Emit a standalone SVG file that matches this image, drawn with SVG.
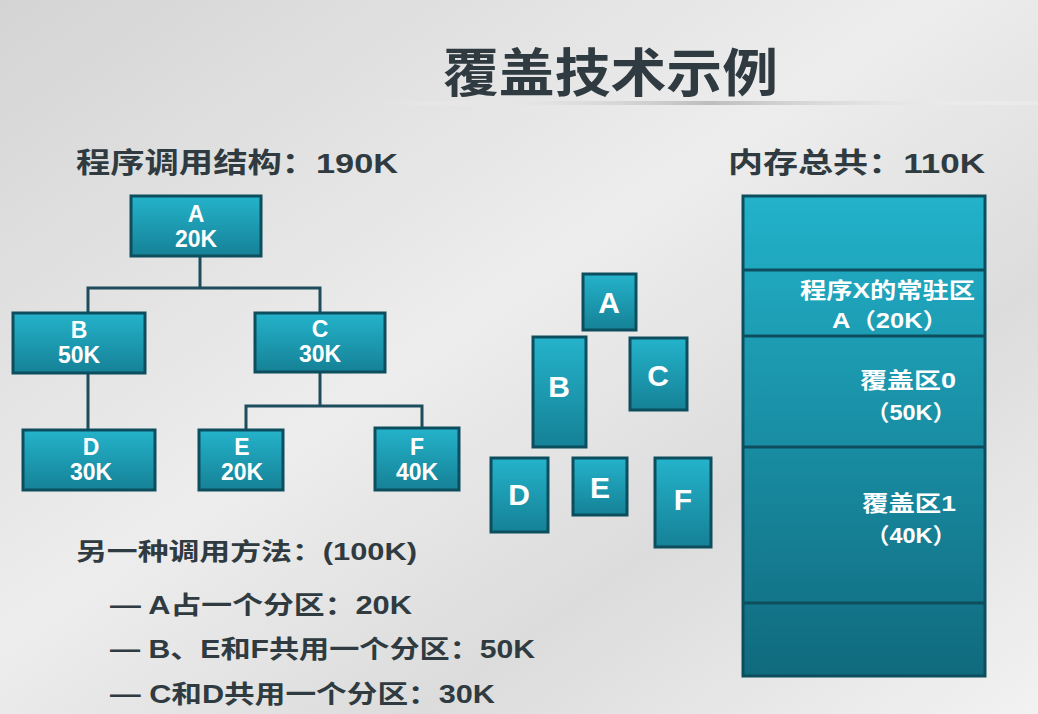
<svg xmlns="http://www.w3.org/2000/svg" width="1038" height="714" viewBox="0 0 1038 714">
<defs>
<linearGradient id="bg" x1="0" y1="0" x2="1" y2="1">
<stop offset="0" stop-color="#d4d4d4"/><stop offset="0.45" stop-color="#ededed"/><stop offset="0.7" stop-color="#dcdcdc"/><stop offset="1" stop-color="#f2f2f2"/>
</linearGradient>
<linearGradient id="tl" x1="0" y1="0" x2="0" y2="1">
<stop offset="0" stop-color="#24b3cb"/><stop offset="1" stop-color="#158196"/>
</linearGradient>
<linearGradient id="mem" x1="0" y1="0" x2="0" y2="1">
<stop offset="0" stop-color="#22b2ca"/><stop offset="1" stop-color="#106a7e"/>
</linearGradient>
<linearGradient id="bar" x1="0" y1="0" x2="1" y2="0">
<stop offset="0" stop-color="#ffffff" stop-opacity="0"/><stop offset="0.5" stop-color="#bdbdbd"/><stop offset="1" stop-color="#ffffff" stop-opacity="0.2"/>
</linearGradient>
</defs>
<style>
.bx{fill:url(#tl);stroke:#0d4e5e;stroke-width:3}
.bt{font-family:"Liberation Sans","Noto Sans CJK SC",sans-serif;font-weight:bold;fill:#fff;text-anchor:middle;font-size:23px}
.big{font-size:30px}
.ln{stroke:#1d4d5c;stroke-width:3;fill:none}
.tx{font-family:"Liberation Sans","Noto Sans CJK SC",sans-serif;font-weight:bold;fill:#2f3b40}
.mt{font-family:"Liberation Sans","Noto Sans CJK SC",sans-serif;font-weight:bold;fill:#fff;font-size:22px}
</style>
<rect width="1038" height="714" fill="url(#bg)"/>
<rect x="380" y="101" width="658" height="4" fill="url(#bar)"/>
<text class="tx" x="443" y="92" font-size="52" textLength="335" lengthAdjust="spacingAndGlyphs">覆盖技术示例</text>
<text class="tx" x="76" y="173" font-size="28" textLength="322" lengthAdjust="spacingAndGlyphs">程序调用结构：190K</text>
<text class="tx" x="728" y="173" font-size="28" textLength="257" lengthAdjust="spacingAndGlyphs">内存总共：110K</text>
<g id="connectors">
<path class="ln" d="M200 256V288M88 312V288H320V312M88 373V430M320 372V406M246 430V406H422V428"/>
</g>
<g id="tA"><rect class="bx" x="131" y="196" width="130" height="60"/><text class="bt" x="196" y="222">A</text><text class="bt" x="196" y="247">20K</text></g>
<g id="tB"><rect class="bx" x="13" y="313" width="132" height="60"/><text class="bt" x="79" y="338">B</text><text class="bt" x="79" y="363">50K</text></g>
<g id="tC"><rect class="bx" x="255" y="313" width="130" height="59"/><text class="bt" x="320" y="337">C</text><text class="bt" x="320" y="362">30K</text></g>
<g id="tD"><rect class="bx" x="23" y="430" width="132" height="60"/><text class="bt" x="91" y="455">D</text><text class="bt" x="91" y="480">30K</text></g>
<g id="tE"><rect class="bx" x="199" y="430" width="84" height="60"/><text class="bt" x="242" y="455">E</text><text class="bt" x="242" y="480">20K</text></g>
<g id="tF"><rect class="bx" x="375" y="428" width="84" height="62"/><text class="bt" x="417" y="455">F</text><text class="bt" x="417" y="480">40K</text></g>
<g id="mA"><rect class="bx" x="583" y="274" width="53" height="56"/><text class="bt big" x="609" y="313">A</text></g>
<g id="mB"><rect class="bx" x="533" y="337" width="53" height="110"/><text class="bt big" x="559" y="397">B</text></g>
<g id="mC"><rect class="bx" x="630" y="338" width="57" height="72"/><text class="bt big" x="658" y="386">C</text></g>
<g id="mD"><rect class="bx" x="491" y="458" width="57" height="74"/><text class="bt big" x="519" y="505">D</text></g>
<g id="mE"><rect class="bx" x="573" y="458" width="54" height="57"/><text class="bt big" x="600" y="498">E</text></g>
<g id="mF"><rect class="bx" x="655" y="458" width="56" height="89"/><text class="bt big" x="683" y="510">F</text></g>
<g id="memory">
<rect x="743" y="196" width="242" height="480" fill="url(#mem)" stroke="#0d4e5e" stroke-width="3"/>
<path d="M743 270H985M743 336H985M743 447H985M743 603H985" stroke="#0d4e5e" stroke-width="3"/>
<text class="mt" x="800" y="298" textLength="175" lengthAdjust="spacingAndGlyphs">程序X的常驻区</text>
<text class="mt" x="832" y="328" textLength="116" lengthAdjust="spacingAndGlyphs">A（20K）</text>
<text class="mt" x="860" y="388" textLength="96" lengthAdjust="spacingAndGlyphs">覆盖区0</text>
<text class="mt" x="866" y="420" textLength="90" lengthAdjust="spacingAndGlyphs">（50K）</text>
<text class="mt" x="862" y="511" textLength="94" lengthAdjust="spacingAndGlyphs">覆盖区1</text>
<text class="mt" x="866" y="543" textLength="90" lengthAdjust="spacingAndGlyphs">（40K）</text>
</g>
<text class="tx" x="76" y="560" font-size="24" textLength="341" lengthAdjust="spacingAndGlyphs">另一种调用方法：(100K)</text>
<text class="tx" x="110" y="614" font-size="25" textLength="302" lengthAdjust="spacingAndGlyphs">— A占一个分区：20K</text>
<text class="tx" x="110" y="658" font-size="25" textLength="425" lengthAdjust="spacingAndGlyphs">— B、E和F共用一个分区：50K</text>
<text class="tx" x="110" y="703" font-size="25" textLength="385" lengthAdjust="spacingAndGlyphs">— C和D共用一个分区：30K</text>
</svg>
